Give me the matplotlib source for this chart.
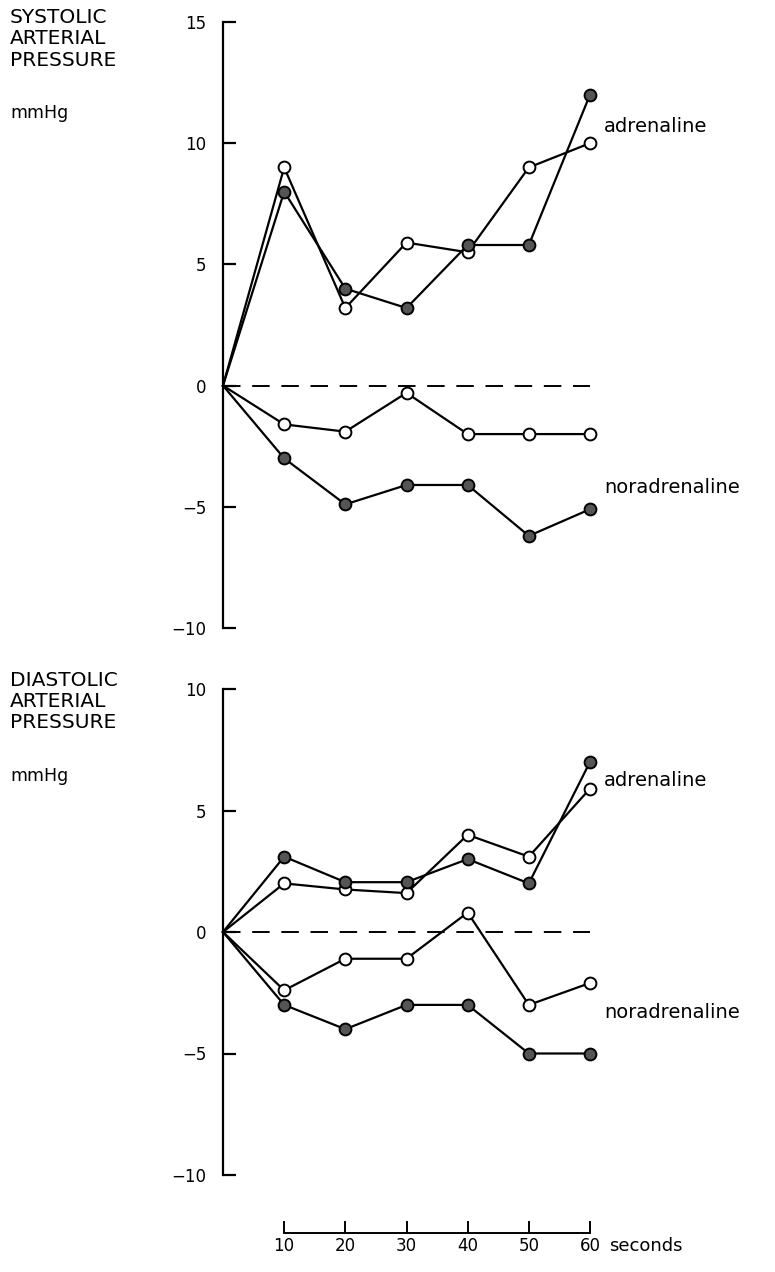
import matplotlib.pyplot as plt

# Time after injection (s); first point is the baseline at 0
seconds = [0, 10, 20, 30, 40, 50, 60]

# Systolic arterial pressure change, mmHg
sys_adr_filled = [0, 8, 4, 3.2, 5.8, 5.8, 12]
sys_adr_open = [0, 9, 3.2, 5.9, 5.5, 9, 10]
sys_nor_open = [0, -1.6, -1.9, -0.3, -2, -2, -2]
sys_nor_filled = [0, -3, -4.9, -4.1, -4.1, -6.2, -5.1]

# Diastolic arterial pressure change, mmHg
dia_adr_filled = [0, 3.1, 2.05, 2.05, 3, 2, 7]
dia_adr_open = [0, 2, 1.75, 1.6, 4, 3.1, 5.9]
dia_nor_open = [0, -2.4, -1.1, -1.1, 0.8, -3, -2.1]
dia_nor_filled = [0, -3, -4, -3, -3, -5, -5]

x_ticks = [10, 20, 30, 40, 50, 60]

W, H = 775, 1272
fig = plt.figure(figsize=(W / 100, H / 100), dpi=100)
plt.rcParams['font.family'] = 'DejaVu Sans'

left = 223 / W
width = 367 / W


def panel_axes(top_px, bottom_px):
    return fig.add_axes([left, 1 - bottom_px / H, width, (bottom_px - top_px) / H])


def draw_series(ax, y, filled):
    # no marker on the baseline point at t = 0
    ax.plot(seconds, y, color='black', linewidth=1.6,
            marker='o', markersize=8.5, markeredgewidth=1.4,
            markeredgecolor='black', markevery=slice(1, None),
            markerfacecolor='#555555' if filled else 'white',
            clip_on=False, zorder=3)


def style_axes(ax, ymin, ymax, yticks):
    ax.set_xlim(0, 60)
    ax.set_ylim(ymin, ymax)
    for side in ['top', 'right', 'bottom']:
        ax.spines[side].set_visible(False)
    ax.spines['left'].set_linewidth(1.6)
    ax.set_xticks([])
    ax.set_yticks(yticks)
    ax.set_yticklabels([str(t).replace('-', '\u2212') for t in yticks])
    ax.tick_params(axis='y', direction='in', length=9, width=1.6,
                   labelsize=12, pad=12)
    ax.patch.set_alpha(0)
    ax.plot([0, 60], [0, 0], color='black', linewidth=1.4,
            dashes=(9, 6), zorder=1)


# Systolic panel
ax1 = panel_axes(22, 628)
style_axes(ax1, -10, 15, [-10, -5, 0, 5, 10, 15])
draw_series(ax1, sys_adr_open, False)
draw_series(ax1, sys_adr_filled, True)
draw_series(ax1, sys_nor_open, False)
draw_series(ax1, sys_nor_filled, True)
ax1.text(62.3, 10.7, 'adrenaline', fontsize=14, va='center', ha='left')
ax1.text(62.3, -4.2, 'noradrenaline', fontsize=14, va='center', ha='left')

# Diastolic panel
ax2 = panel_axes(689, 1175)
style_axes(ax2, -10, 10, [-10, -5, 0, 5, 10])
draw_series(ax2, dia_adr_open, False)
draw_series(ax2, dia_adr_filled, True)
draw_series(ax2, dia_nor_open, False)
draw_series(ax2, dia_nor_filled, True)
ax2.text(62.3, 6.25, 'adrenaline', fontsize=14, va='center', ha='left')
ax2.text(62.3, -3.3, 'noradrenaline', fontsize=14, va='center', ha='left')

# Shared time axis drawn below the diastolic panel
ax3 = fig.add_axes([left, 1 - 1233 / H, width, 0.001])
ax3.set_xlim(0, 60)
for side in ['top', 'right', 'left']:
    ax3.spines[side].set_visible(False)
ax3.spines['bottom'].set_bounds(10, 60)
ax3.spines['bottom'].set_linewidth(1.4)
ax3.set_yticks([])
ax3.set_xticks(x_ticks)
ax3.tick_params(axis='x', direction='in', length=9, width=1.4,
                labelsize=12, pad=3)
ax3.patch.set_alpha(0)
ax3.annotate('seconds', xy=(1, 0), xycoords='axes fraction',
             xytext=(14, -3), textcoords='offset points',
             fontsize=13, va='top', ha='left')

# Panel titles
fig.text(10 / W, 1 - 8 / H, 'SYSTOLIC\nARTERIAL\nPRESSURE', fontsize=14.5,
         va='top', ha='left', linespacing=1.15)
fig.text(10 / W, 1 - 113 / H, 'mmHg', fontsize=12.5, va='center', ha='left')
fig.text(10 / W, 1 - 671 / H, 'DIASTOLIC\nARTERIAL\nPRESSURE', fontsize=14.5,
         va='top', ha='left', linespacing=1.15)
fig.text(10 / W, 1 - 776 / H, 'mmHg', fontsize=12.5, va='center', ha='left')

fig.savefig('out.png', dpi=100)
